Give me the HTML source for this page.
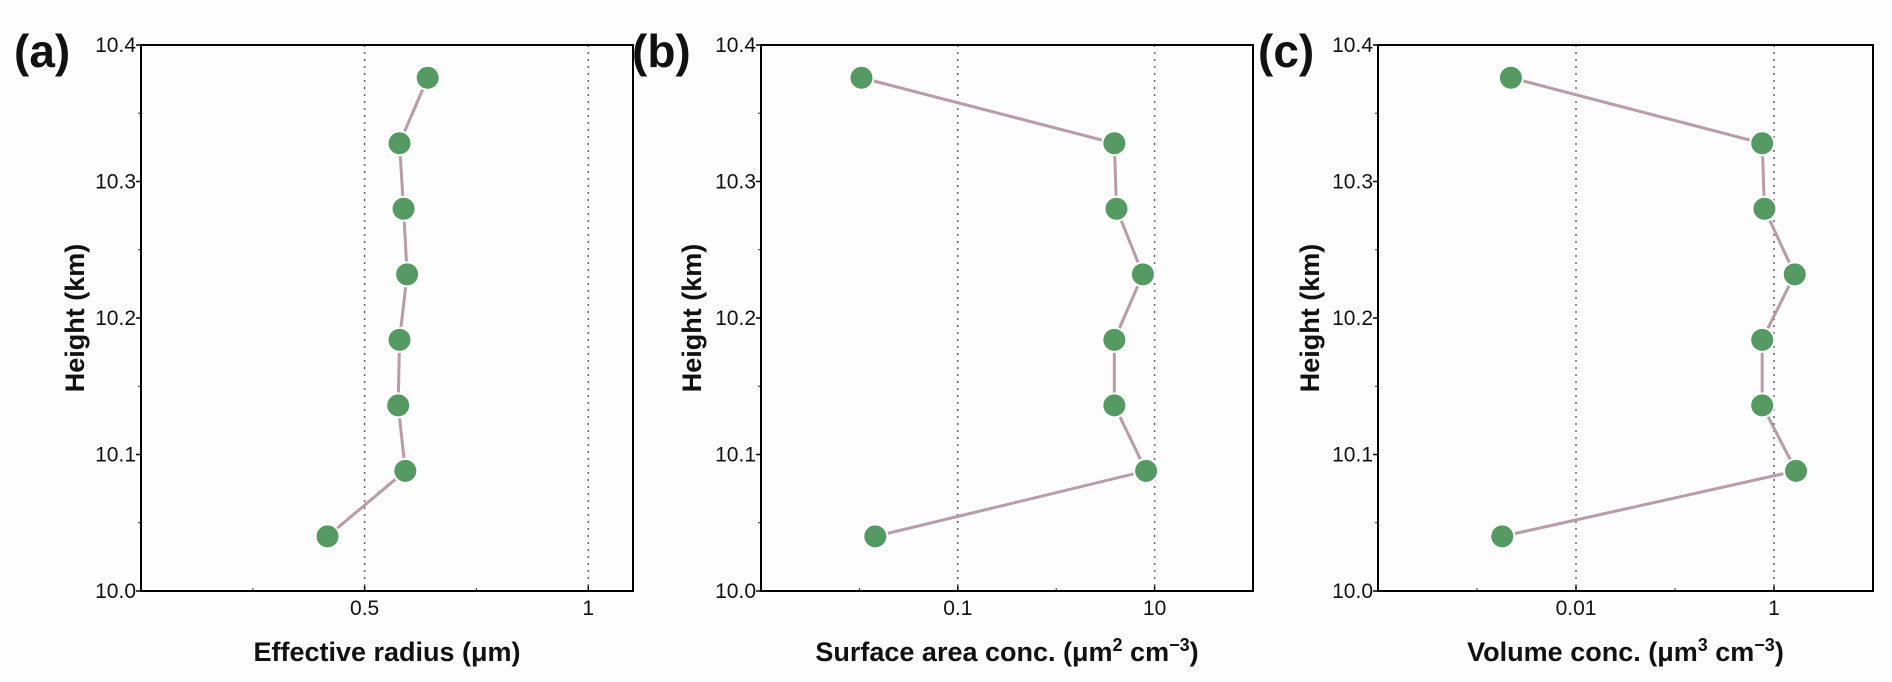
<!DOCTYPE html>
<html><head><meta charset="utf-8"><style>
body{margin:0;background:#fdfdfd;}
svg{display:block;font-family:"Liberation Sans",Arial,sans-serif;}
</style></head><body>
<svg id="fig" width="1892" height="682" viewBox="0 0 1892 682"></svg>
<script>
const heights=[10.376,10.328,10.280,10.232,10.184,10.136,10.088,10.040];
const radiusVals=[0.641,0.578,0.587,0.595,0.578,0.575,0.591,0.417];
const surfaceVals=[0.0105,3.9,4.1,7.6,3.9,3.9,8.2,0.0145];
const volumeVals=[0.0022,0.76,0.80,1.62,0.76,0.76,1.67,0.0018];
const yTicks=[10.0,10.1,10.2,10.3,10.4];
const aTicks=[0.5,1];const aTickLabels=["0.5","1"];
const bTicks=[0.1,10];const bTickLabels=["0.1","10"];
const cTicks=[0.01,1];const cTickLabels=["0.01","1"];
const NS="http://www.w3.org/2000/svg";
const svg=document.getElementById('fig');
function mk(tag,attrs,parent,text){const e=document.createElementNS(NS,tag);for(const k in attrs)e.setAttribute(k,attrs[k]);if(text!==undefined)e.textContent=text;(parent||svg).appendChild(e);return e;}
const plotTop=45,plotBot=591;
function yS(v){return plotBot-(v-10.0)/0.4*(plotBot-plotTop);}
function panel(o){
  const g=mk('g',{});
  
  
  const xS=o.log?(v=>o.l+(Math.log10(v)-Math.log10(o.min))/(Math.log10(o.max)-Math.log10(o.min))*(o.r-o.l)):(v=>o.l+(v-o.min)/(o.max-o.min)*(o.r-o.l));
  o.ticks.forEach((t,i)=>{const gl=mk('line',{x1:xS(t),x2:xS(t),y1:plotTop,y2:plotBot,stroke:'#666','stroke-width':1.5,'stroke-dasharray':'2,5'},g);
    
    
    mk('line',{x1:xS(t),x2:xS(t),y1:plotBot,y2:plotBot-5,stroke:'#000','stroke-width':1.5},g);
    const tl=mk('text',{x:xS(t),y:615,'text-anchor':'middle','font-size':21,fill:'#111'},g,o.labels[i]);
    
    });
  o.minor.forEach(t=>mk('line',{x1:xS(t),x2:xS(t),y1:plotBot,y2:plotBot-3,stroke:'#333','stroke-width':1},g));
  yTicks.forEach(t=>{mk('line',{x1:o.l,x2:o.l-5,y1:yS(t),y2:yS(t),stroke:'#000','stroke-width':1.5},g);
    const tl=mk('text',{x:o.l-5,y:yS(t)+7,'text-anchor':'end','font-size':21,fill:'#111'},g,t.toFixed(1));
    
    
    if(t<10.4)mk('line',{x1:o.l,x2:o.l-3,y1:yS(t+0.05),y2:yS(t+0.05),stroke:'#333','stroke-width':1},g);});
  const fr=mk('rect',{x:o.l,y:plotTop,width:o.r-o.l,height:plotBot-plotTop,fill:'none',stroke:'#000','stroke-width':2},g);
  
  
  const pts=o.vals.map((v,i)=>xS(v)+','+yS(heights[i])).join(' ');
  const pl=mk('polyline',{points:pts,fill:'none',stroke:'#b89ca8','stroke-width':3},g);
  
  
  o.vals.forEach((v,i)=>{const c=mk('circle',{cx:xS(v),cy:yS(heights[i]),r:12,fill:'#559a63',stroke:'#fff','stroke-width':2},g);
    
    });
  const yt=mk('text',{transform:`translate(${o.yt},${(plotTop+plotBot)/2}) rotate(-90)`,'text-anchor':'middle','font-size':27,'font-weight':'bold',fill:'#111'},g,'Height (km)');
  
  
  const xt=mk('text',{x:(o.l+o.r)/2,y:661,'text-anchor':'middle','font-size':27,'font-weight':'bold',fill:'#111'},g);
  
  
  xt.innerHTML=o.title;
  const pla=mk('text',{x:o.pl,y:67,'font-size':46,'font-weight':'bold',fill:'#111'},g,'('+o.id+')');
  
  
}
panel({id:'a',l:141,r:633,min:0,max:1.1,log:false,vals:radiusVals,ticks:aTicks,labels:aTickLabels,minor:[0.25,0.75],yt:84,pl:14,title:'Effective radius (μm)'});
panel({id:'b',l:761,r:1253,min:0.001,max:100,log:true,vals:surfaceVals,ticks:bTicks,labels:bTickLabels,minor:[0.01,1],yt:701,pl:632,title:'Surface area conc. (μm<tspan font-size="18" dy="-10">2</tspan><tspan dy="10"> cm</tspan><tspan font-size="18" dy="-10">−3</tspan><tspan dy="10">)</tspan>'});
panel({id:'c',l:1378,r:1873,min:0.0001,max:10,log:true,vals:volumeVals,ticks:cTicks,labels:cTickLabels,minor:[0.001,0.1],yt:1319,pl:1258,title:'Volume conc. (μm<tspan font-size="18" dy="-10">3</tspan><tspan dy="10"> cm</tspan><tspan font-size="18" dy="-10">−3</tspan><tspan dy="10">)</tspan>'});
</script>
</body></html>
